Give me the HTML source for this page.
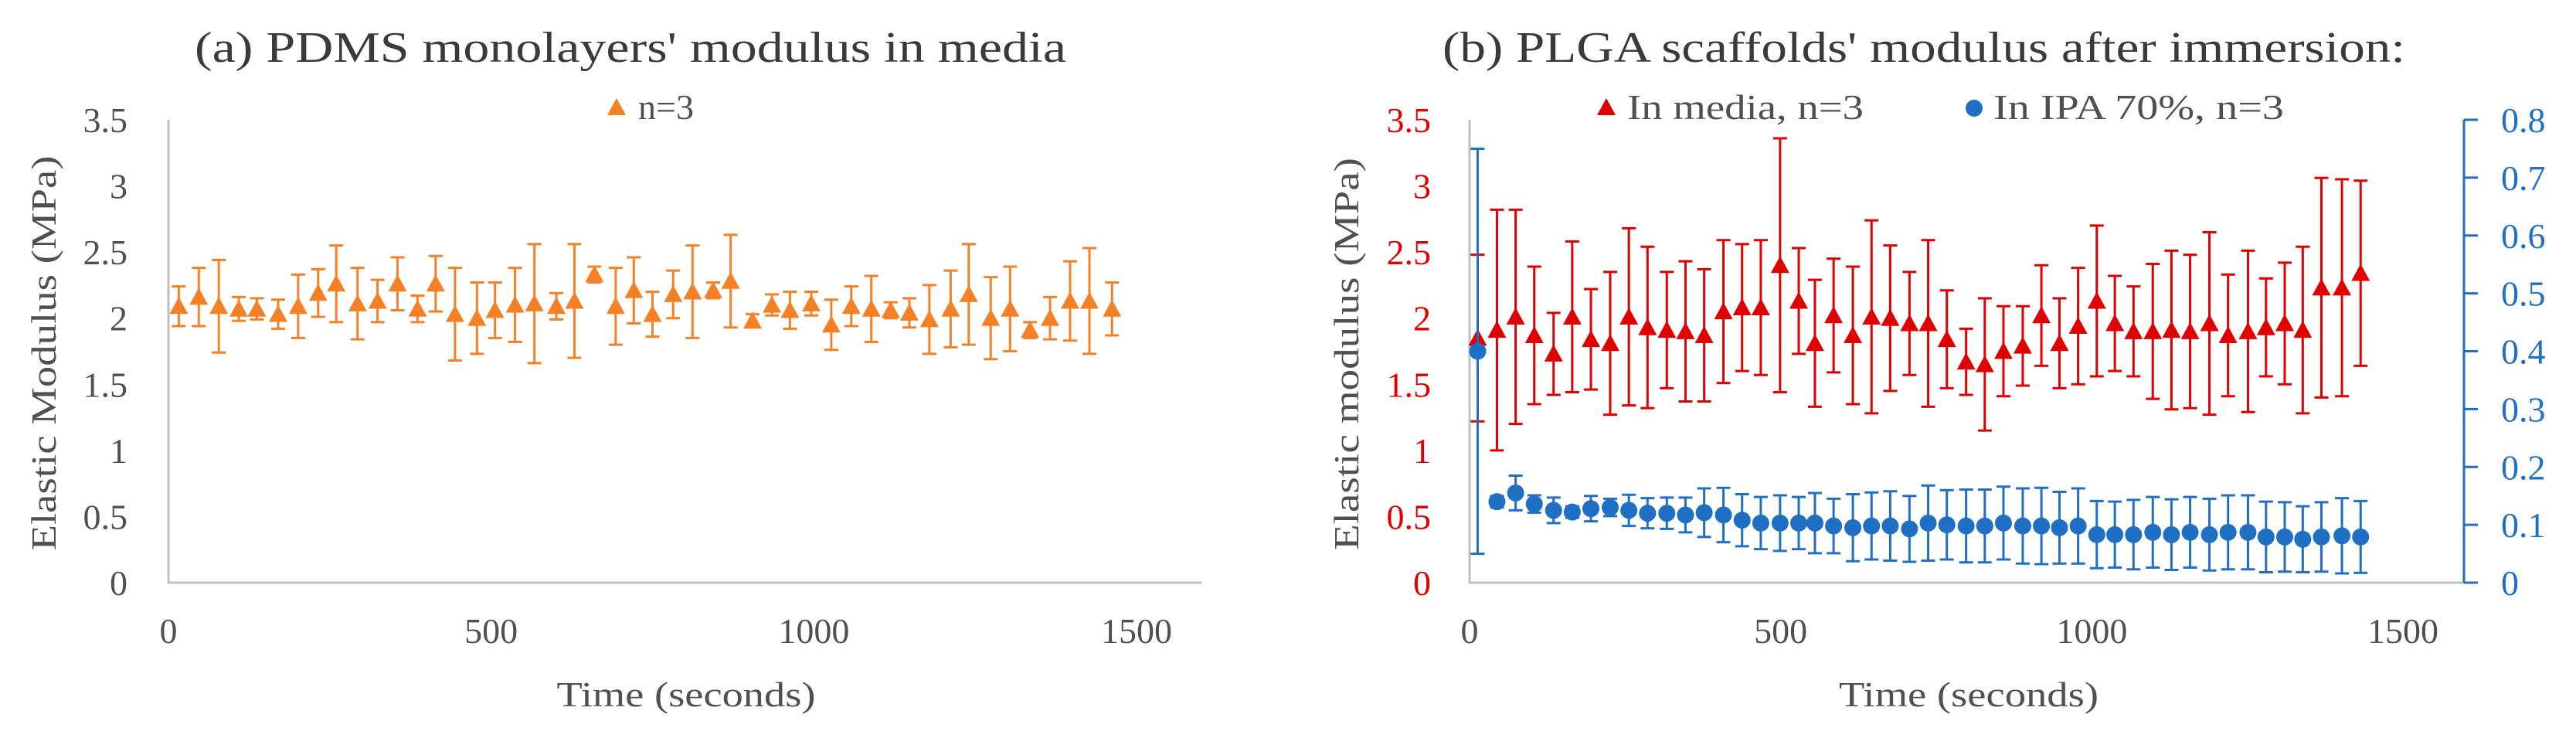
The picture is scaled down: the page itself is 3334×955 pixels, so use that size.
<!DOCTYPE html>
<html><head><meta charset="utf-8"><style>
html,body{margin:0;padding:0;background:#fff;}
svg{display:block;}
svg text{font-family:"Liberation Serif","Times New Roman",serif;}
</style></head><body>
<svg id="c" width="3334" height="955" viewBox="0 0 3334 955" xmlns="http://www.w3.org/2000/svg" font-family="Liberation Serif, serif">
<g id="pa"></g>
<g id="pb"></g>
</svg>
<script>
const xTicks=[0,500,1000,1500];
const yTicksLeft=[0,0.5,1,1.5,2,2.5,3,3.5];
const yTickLabelsLeft=["0","0.5","1","1.5","2","2.5","3","3.5"];
const yTicksRight=[0,0.1,0.2,0.3,0.4,0.5,0.6,0.7,0.8];
const yTickLabelsRight=["0","0.1","0.2","0.3","0.4","0.5","0.6","0.7","0.8"];
const timeA=[16,47,78,109,137,170,201,232,260,293,324,355,386,414,444,478,506,537,567,601,629,660,693,721,750,782,812,844,871,905,935,963,996,1027,1058,1089,1119,1148,1179,1212,1240,1274,1304,1335,1366,1397,1427,1462];
const pdmsMean=[2.09,2.16,2.09,2.07,2.07,2.03,2.09,2.19,2.26,2.11,2.13,2.26,2.07,2.26,2.03,2.0,2.06,2.1,2.11,2.09,2.13,2.33,2.09,2.21,2.03,2.18,2.2,2.21,2.28,1.98,2.1,2.06,2.11,1.95,2.09,2.07,2.06,2.04,1.99,2.07,2.18,2.0,2.07,1.91,2.0,2.13,2.13,2.07];
const pdmsErr=[0.15,0.22,0.35,0.09,0.08,0.11,0.24,0.18,0.29,0.27,0.16,0.2,0.1,0.21,0.35,0.27,0.21,0.28,0.45,0.1,0.43,0.06,0.29,0.25,0.17,0.18,0.35,0.06,0.35,0.05,0.08,0.14,0.09,0.19,0.15,0.25,0.06,0.11,0.26,0.29,0.38,0.31,0.32,0.06,0.16,0.3,0.4,0.2];
const timeB=[13,44,74,104,135,165,195,226,256,286,317,347,377,408,438,468,499,529,555,585,616,646,676,707,737,767,798,828,858,889,919,948,978,1008,1037,1067,1098,1128,1158,1189,1219,1251,1280,1310,1339,1369,1402,1432];
const mediaMean=[1.85,1.91,2.01,1.87,1.73,2.01,1.84,1.81,2.01,1.93,1.91,1.9,1.87,2.05,2.08,2.08,2.4,2.13,1.81,2.02,1.87,2.01,2.0,1.96,1.96,1.84,1.67,1.65,1.75,1.79,2.02,1.81,1.94,2.13,1.96,1.9,1.9,1.91,1.9,1.96,1.87,1.9,1.93,1.96,1.91,2.23,2.23,2.34];
const mediaErr=[0.63,0.91,0.81,0.52,0.31,0.57,0.38,0.54,0.67,0.61,0.44,0.53,0.5,0.54,0.48,0.51,0.96,0.4,0.48,0.43,0.52,0.73,0.55,0.39,0.63,0.37,0.25,0.5,0.34,0.3,0.38,0.34,0.44,0.57,0.36,0.34,0.51,0.6,0.58,0.69,0.46,0.61,0.37,0.46,0.63,0.83,0.82,0.7];
const ipaMean=[0.40,0.14,0.155,0.136,0.125,0.122,0.128,0.13,0.125,0.12,0.12,0.117,0.121,0.117,0.108,0.103,0.103,0.103,0.103,0.098,0.095,0.098,0.098,0.093,0.103,0.1,0.098,0.098,0.103,0.098,0.098,0.095,0.098,0.083,0.083,0.083,0.087,0.083,0.087,0.083,0.087,0.087,0.079,0.079,0.075,0.079,0.081,0.079];
const ipaErr=[0.35,0.01,0.03,0.015,0.022,0.01,0.022,0.015,0.027,0.026,0.027,0.03,0.042,0.047,0.045,0.045,0.048,0.045,0.052,0.047,0.058,0.058,0.06,0.057,0.065,0.06,0.063,0.063,0.063,0.065,0.066,0.062,0.065,0.058,0.057,0.06,0.061,0.061,0.061,0.062,0.064,0.064,0.061,0.06,0.057,0.06,0.065,0.062];

const NS="http://www.w3.org/2000/svg";
function mk(tag,attrs,parent,text){const e=document.createElementNS(NS,tag);for(const k in attrs)e.setAttribute(k,attrs[k]);if(text!==undefined)e.textContent=text;parent.appendChild(e);return e;}
const Y0=754,Y1=155;
const TXT='#505050';
function tri(g,cx,cy,col){return mk('polygon',{points:`${cx-12},${cy+10} ${cx+12},${cy+10} ${cx},${cy-12}`,fill:col},g);}
function series(g,xs,ys,es,xf,yf,col,shape,name){
  for(let i=0;i<xs.length;i++){
    const x=xf(xs[i]),y=yf(ys[i]),yt=yf(ys[i]+es[i]),yb=yf(ys[i]-es[i]);
    const eb=mk('path',{d:`M${x},${yt}V${yb}M${x-9},${yt}H${x+9}M${x-9},${yb}H${x+9}`,stroke:col,'stroke-width':3,fill:'none'},g);
    
    
    let m;
    if(shape==='tri')m=tri(g,x,y,col);else m=mk('circle',{cx:x,cy:y,r:11,fill:col},g);
    
    
  }
}
// Panel A
(function(){
  const g=document.getElementById('pa');
  const L=218,R=1555;const xf=v=>L+v*(1471-218)/1500;const yf=v=>Y0-v*(Y0-Y1)/3.5;
  let t=mk('text',{x:816,y:80,'text-anchor':'middle','font-size':56,fill:'#3a3a3a',textLength:1128,lengthAdjust:'spacingAndGlyphs'},g,"(a)  PDMS monolayers' modulus in media");
  
  let a=mk('path',{d:`M${L},${Y1}V${Y0}H${R}`,stroke:'#bfbfbf','stroke-width':3,fill:'none'},g);
  
  yTicksLeft.forEach((v,i)=>{const e=mk('text',{x:165,y:yf(v)+16,'text-anchor':'end','font-size':46,fill:TXT},g,yTickLabelsLeft[i]);});
  xTicks.forEach(v=>{const e=mk('text',{x:xf(v),y:832,'text-anchor':'middle','font-size':46,fill:TXT},g,String(v));});
  t=mk('text',{x:888,y:914,'text-anchor':'middle','font-size':46,fill:TXT,textLength:335,lengthAdjust:'spacingAndGlyphs'},g,'Time  (seconds)');
  
  t=mk('text',{x:0,y:0,transform:'translate(72,457) rotate(-90)','text-anchor':'middle','font-size':46,fill:TXT,textLength:511,lengthAdjust:'spacingAndGlyphs'},g,'Elastic  Modulus  (MPa)');
  
  const lg=mk('g',{},g);
  tri(lg,798,139,'#f58025');
  mk('text',{x:826,y:154,'font-size':46,fill:TXT},lg,'n=3');
  series(g,timeA,pdmsMean,pdmsErr,xf,yf,'#f58025','tri','pdms');
})();
// Panel B
(function(){
  const g=document.getElementById('pb');
  const L=1902,R=3189;const xf=v=>L+v*(3110-1902)/1500;const yf=v=>Y0-v*(Y0-Y1)/3.5;const yr=v=>Y0-v*(Y0-Y1)/0.8;
  let t=mk('text',{x:2490,y:80,'text-anchor':'middle','font-size':56,fill:'#3a3a3a',textLength:1246,lengthAdjust:'spacingAndGlyphs'},g,"(b)  PLGA scaffolds' modulus after immersion:");
  
  let a=mk('path',{d:`M${L},${Y1}V${Y0}H${R}`,stroke:'#bfbfbf','stroke-width':3,fill:'none'},g);
  
  a=mk('path',{d:`M${R},${Y1}V${Y0}`,stroke:'#1f6fc5','stroke-width':3,fill:'none'},g);
  
  yTicksRight.forEach((v,i)=>{
    const tk=mk('path',{d:`M${R},${yr(v)}H${R+18}`,stroke:'#1f6fc5','stroke-width':3},g);
    const e=mk('text',{x:3237,y:yr(v)+16,'font-size':46,fill:'#1f6fc5'},g,yTickLabelsRight[i]);});
  yTicksLeft.forEach((v,i)=>{const e=mk('text',{x:1852,y:yf(v)+16,'text-anchor':'end','font-size':46,fill:'#e00000'},g,yTickLabelsLeft[i]);});
  xTicks.forEach(v=>{const e=mk('text',{x:xf(v),y:832,'text-anchor':'middle','font-size':46,fill:TXT},g,String(v));});
  t=mk('text',{x:2548,y:914,'text-anchor':'middle','font-size':46,fill:TXT,textLength:336,lengthAdjust:'spacingAndGlyphs'},g,'Time  (seconds)');
  
  t=mk('text',{x:0,y:0,transform:'translate(1758,458) rotate(-90)','text-anchor':'middle','font-size':46,fill:TXT,textLength:508,lengthAdjust:'spacingAndGlyphs'},g,'Elastic  modulus  (MPa)');
  
  let lg=mk('g',{},g);
  tri(lg,2079,139,'#e00000');
  mk('text',{x:2106,y:154,'font-size':46,fill:TXT,textLength:306,lengthAdjust:'spacingAndGlyphs'},lg,'In media, n=3');
  lg=mk('g',{},g);
  mk('circle',{cx:2555,cy:140,r:11,fill:'#1f6fc5'},lg);
  mk('text',{x:2580,y:154,'font-size':46,fill:TXT,textLength:376,lengthAdjust:'spacingAndGlyphs'},lg,'In IPA 70%, n=3');
  series(g,timeB,mediaMean,mediaErr,xf,yf,'#e00000','tri','media');
  series(g,timeB,ipaMean,ipaErr,xf,yr,'#1f6fc5','circ','ipa');
})();
</script>
</body></html>
